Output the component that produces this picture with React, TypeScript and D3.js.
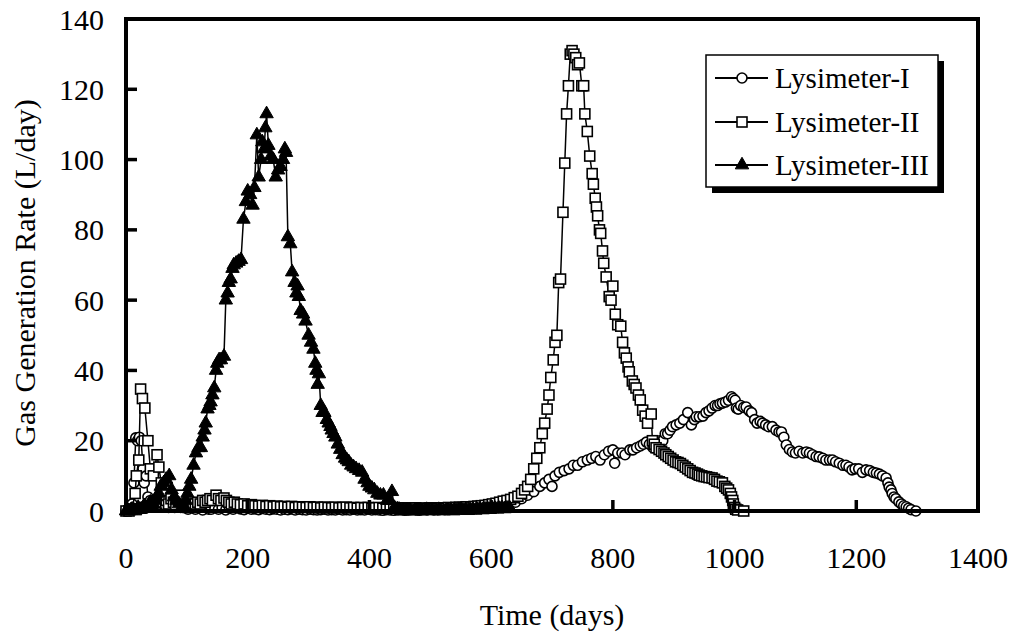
import React from 'react';
import * as d3 from 'd3';

// axis ticks
const xTicks = [0, 200, 400, 600, 800, 1000, 1200, 1400];
const yTicks = [0, 20, 40, 60, 80, 100, 120, 140];

const seriesNames = ['Lysimeter-I', 'Lysimeter-II', 'Lysimeter-III'];

// [day, L/day]
const lysimeter1: [number, number][] = [
  [0, 0], [3, 0.5], [7, 1], [10, 2], [13, 8], [16, 20.8], [19, 20], [22, 21], [25, 20], [28, 12], [30, 8],
  [33, 10], [36, 4], [40, 3], [44, 2.5], [48, 2], [52, 3], [56, 1.5], [60, 2], [65, 1.5], [70, 1], [75, 2],
  [80, 1], [85, 1.5], [90, 1], [96, 1], [102, 0.5], [108, 1], [114, 0.5], [120, 1], [126, 0.3], [128, 2],
  [132, 1], [136, 0.5], [140, 0.5], [146, 1], [152, 0.5], [158, 1], [164, 0.3], [170, 0.8], [176, 0.5],
  [182, 1], [188, 0.6], [194, 0.4], [200, 0.8], [206, 0.5], [212, 0.6], [218, 0.4], [224, 0.7], [230, 0.5],
  [236, 0.4], [242, 0.6], [248, 0.5], [254, 0.3], [260, 0.5], [266, 0.4], [272, 0.6], [278, 0.3], [284, 0.5],
  [290, 0.4], [296, 0.3], [302, 0.5], [308, 0.4], [314, 0.3], [320, 0.4], [326, 0.5], [332, 0.3], [338, 0.4],
  [344, 0.3], [350, 0.5], [356, 0.3], [362, 0.4], [368, 0.3], [374, 0.5], [380, 0.3], [386, 0.4], [392, 0.3],
  [398, 0.5], [404, 0.3], [410, 0.4], [416, 0.3], [422, 0.2], [428, 0.4], [434, 0.3], [440, 0.2], [446, 0.3],
  [452, 0.4], [458, 0.2], [464, 0.3], [470, 0.4], [476, 0.3], [482, 0.2], [488, 0.4], [494, 0.3], [500, 0.5],
  [506, 0.3], [512, 0.4], [518, 0.6], [524, 0.4], [530, 0.5], [536, 0.7], [542, 0.5], [548, 0.8], [554, 0.6],
  [560, 0.9], [566, 0.7], [572, 1], [578, 0.8], [584, 1.1], [590, 1], [596, 1.2], [602, 1], [610, 1.2],
  [620, 1.5], [630, 2], [640, 2.5], [650, 3.5], [660, 4.5], [670, 5.5], [680, 7], [688, 8], [695, 9], [700, 7],
  [705, 10], [712, 11], [720, 11.5], [728, 12], [735, 13], [742, 13], [750, 14], [758, 14.5], [765, 15],
  [772, 15.5], [779, 14.5], [786, 16], [793, 17], [800, 17.4], [803, 13.6], [808, 16.5], [815, 16.5], [820, 16],
  [828, 17.4], [833, 17.4], [839, 18], [845, 18.5], [850, 19], [855, 19.6], [860, 19], [866, 18], [872, 19],
  [877, 20], [882, 20], [886, 22], [890, 22], [894, 23], [898, 24], [904, 24.5], [910, 25], [916, 26], [923, 28],
  [929, 24.5], [934, 26], [937, 26.8], [942, 26.8], [948, 27], [953, 28], [958, 28.5], [963, 29.3], [968, 30],
  [972, 30], [976, 30.5], [980, 30.7], [985, 31], [990, 31.5], [995, 32.5], [998, 32], [1001, 31.5],
  [1003, 29.3], [1006, 29], [1010, 30], [1015, 29.5], [1019, 29.6], [1024, 28.5], [1028, 28], [1033, 26],
  [1037, 25], [1042, 25.5], [1046, 25], [1051, 24.5], [1056, 24], [1062, 24], [1068, 23], [1073, 22.5],
  [1077, 22.5], [1081, 21], [1085, 18.8], [1090, 17.5], [1095, 16.8], [1100, 16.5], [1106, 17], [1112, 16.5],
  [1118, 16.8], [1123, 16.5], [1128, 16], [1134, 15.5], [1139, 15.4], [1145, 15], [1150, 14.5], [1156, 14.5],
  [1161, 14.5], [1166, 14], [1172, 13.6], [1178, 13], [1183, 13], [1188, 12.5], [1193, 11.7], [1198, 12],
  [1204, 12], [1210, 11], [1216, 11.7], [1222, 11.5], [1228, 11], [1233, 10.8], [1238, 10.5], [1243, 10],
  [1249, 9.4], [1252, 8], [1254, 6.8], [1257, 6], [1259, 5], [1262, 4], [1265, 3.5], [1270, 2.6], [1274, 2],
  [1278, 1.5], [1282, 1.2], [1286, 0.8], [1290, 0.4], [1298, 0],
];

const lysimeter2: [number, number][] = [
  [0, 0], [5, 0], [10, 0.5], [15, 5], [17, 10], [21, 14.5], [24, 34.7], [27, 32], [31, 29.3], [36, 20],
  [40, 12], [45, 10], [51, 16], [54, 12.5], [58, 8], [62, 5], [66, 3], [70, 2], [74, 3.5], [78, 2.5], [82, 1.5],
  [86, 3], [90, 4.5], [94, 2], [98, 1.5], [102, 1], [106, 2], [110, 1.5], [114, 2], [118, 2.5], [122, 2],
  [126, 3], [130, 2.5], [134, 3], [138, 3.5], [142, 3], [148, 4.5], [152, 3.5], [156, 3], [161, 3.7], [165, 3],
  [169, 2.5], [173, 2], [178, 2.5], [183, 2], [188, 1.8], [194, 2], [200, 1.5], [206, 1.8], [212, 1.5],
  [218, 1.4], [224, 1.6], [230, 1.3], [236, 1.5], [242, 1.2], [248, 1.4], [254, 1.2], [260, 1.3], [266, 1.1],
  [272, 1.3], [278, 1], [284, 1.2], [290, 1.1], [296, 1], [302, 1.2], [308, 1], [314, 1.1], [320, 0.9],
  [326, 1.1], [332, 1], [338, 0.9], [344, 1.1], [350, 0.9], [356, 1], [362, 1.1], [368, 0.9], [374, 1],
  [380, 0.8], [386, 1], [392, 0.9], [398, 1], [404, 0.8], [410, 0.9], [416, 1], [422, 0.8], [428, 0.9],
  [434, 0.8], [440, 1], [446, 0.8], [452, 0.7], [458, 0.9], [464, 0.8], [470, 0.7], [476, 0.9], [482, 0.8],
  [488, 0.7], [494, 0.8], [500, 0.9], [506, 0.7], [512, 0.8], [518, 0.9], [524, 0.8], [530, 1], [536, 0.9],
  [542, 1], [548, 1.1], [554, 1], [560, 1.2], [566, 1.1], [572, 1.3], [578, 1.4], [584, 1.5], [590, 1.6],
  [596, 1.8], [602, 2], [608, 2.2], [614, 2.5], [620, 2.8], [626, 3], [632, 3.3], [638, 3.8], [644, 4.2],
  [650, 5], [655, 6], [660, 7], [665, 9], [670, 12], [675, 15], [680, 18], [684, 22], [688, 25], [692, 29],
  [695, 33], [698, 38], [702, 43], [705, 48], [708, 50], [711, 65], [714, 66], [718, 85], [721, 99], [724, 113],
  [727, 121], [730, 130], [733, 131], [736, 130], [739, 129], [742, 127], [745, 127.5], [749, 121], [752, 121],
  [754, 113], [758, 108], [762, 101], [766, 96], [768, 93], [771, 89], [773, 86.5], [775, 84], [778, 80],
  [780, 79], [783, 74], [785, 70.5], [789, 66.6], [794, 61], [797, 60], [800, 64], [804, 56], [808, 53],
  [813, 52.6], [816, 48], [819, 45], [822, 43.5], [825, 41], [827, 39.6], [832, 37], [835, 36], [838, 35],
  [842, 33], [845, 31.6], [849, 28.7], [853, 27], [857, 25], [863, 27.6], [865, 20], [868, 19], [871, 18],
  [876, 17.5], [880, 17], [884, 16.5], [887, 16], [891, 15.5], [895, 15], [899, 14.5], [903, 14], [907, 13.8],
  [911, 13.5], [915, 13], [919, 12.5], [923, 12], [927, 11.5], [931, 11], [935, 10.8], [939, 10.5], [942, 10.2],
  [946, 10], [950, 9.8], [954, 9.7], [958, 9.5], [963, 9.4], [967, 9], [971, 8.5], [975, 8.3], [980, 8],
  [984, 7], [987, 6.5], [990, 6], [993, 5], [995, 4], [997, 3], [998, 2], [1000, 1], [1002, 0.5], [1005, 0.3],
  [1015, 0],
];

const lysimeter3: [number, number][] = [
  [0, 0], [3, 0.2], [5, 0], [8, 0.3], [10, 0.5], [13, 0.2], [15, 0], [18, 0.5], [20, 1], [23, 0.4], [25, 0.5],
  [28, 1], [30, 1.5], [33, 0.8], [35, 1], [38, 2], [40, 2.5], [43, 1.5], [45, 2], [48, 3], [50, 4],
  [54, 5], [57, 7], [62, 8], [66, 9], [71, 10], [75, 6], [79, 4], [83, 3], [87, 2], [91, 1], [95, 1.5], [98, 3],
  [101, 5], [104, 7], [107, 9], [111, 13], [115, 16.5], [119, 18], [123, 18], [126, 21], [129, 23], [131, 25],
  [134, 29], [137, 30], [139, 31], [142, 33], [145, 35], [148, 40], [150, 42], [153, 43], [156, 43], [161, 44],
  [164, 60], [167, 62], [169, 65], [172, 66], [175, 69], [177, 70], [181, 70.5], [185, 71], [189, 71.5],
  [193, 83], [197, 88], [200, 91], [204, 90], [208, 87], [211, 92], [215, 107], [218, 95], [222, 100],
  [224, 105], [227, 103], [229, 109], [231, 113], [234, 104], [238, 101], [242, 100], [246, 95], [250, 97],
  [254, 98], [258, 100], [261, 103], [263, 102], [266, 78], [270, 76], [273, 68], [277, 65], [280, 62],
  [282, 64], [284, 61], [287, 57], [291, 56], [295, 54], [300, 50], [304, 48], [308, 46], [311, 42], [313, 40],
  [315, 36], [317, 39], [320, 30], [323, 28], [326, 28], [330, 26], [333, 25], [336, 24], [338, 23], [341, 22],
  [344, 21], [348, 19], [352, 17.5], [356, 16], [360, 15], [363, 14.5], [366, 14], [370, 13], [374, 12.5],
  [378, 12], [383, 11.5], [388, 11], [392, 9], [397, 8], [400, 7], [404, 6.5], [408, 6], [413, 5], [418, 4.5],
  [423, 4.5], [429, 3], [433, 3], [437, 5.5], [441, 1], [446, 0.5], [449, 0.4], [452, 0.3], [455, 0.2],
  [458, 0], [462, 0.3], [466, 0.2], [470, 0], [474, 0.1], [478, 0.3], [482, 0.2], [486, 0], [490, 0.2],
  [494, 0.4], [498, 0.1], [502, 0.3], [506, 0], [510, 0.2], [514, 0.4], [518, 0.1], [522, 0], [526, 0.3],
  [530, 0.2], [534, 0.4], [538, 0], [542, 0.3], [546, 0.2], [550, 0.5], [554, 0.2], [558, 0.4], [562, 0.1],
  [566, 0.3], [570, 0.5], [574, 0.2], [578, 0.4], [582, 0.6], [586, 0.3], [590, 0.5], [594, 0.7], [598, 0.4],
  [602, 0.6], [606, 0.8], [610, 0.5], [614, 0.7], [618, 0.9], [622, 0.6], [626, 0.8], [630, 1],
];

const allSeries = [lysimeter1, lysimeter2, lysimeter3];

const width = 1015;
const height = 634;
const margin = { top: 19, right: 37, bottom: 123, left: 126 };
const font = '"Liberation Serif", "Times New Roman", serif';

const Marker = ({ kind, x, y }: { kind: number; x: number; y: number }) => {
  if (kind === 0) {
    return <circle cx={x} cy={y} r={5} fill="#fff" stroke="#000" strokeWidth={1.6} />;
  }
  if (kind === 1) {
    return <rect x={x - 5} y={y - 5} width={10} height={10} fill="#fff" stroke="#000" strokeWidth={1.6} />;
  }
  const tri = d3.symbol(d3.symbolTriangle, 78)();
  return <path d={tri || ''} transform={`translate(${x},${y})`} fill="#000" stroke="#000" strokeWidth={1} />;
};

const App = () => {
  const x = d3
    .scaleLinear()
    .domain([0, 1400])
    .range([margin.left, width - margin.right]);
  const y = d3
    .scaleLinear()
    .domain([0, 140])
    .range([height - margin.bottom, margin.top]);

  const line = d3
    .line<[number, number]>()
    .x((d) => x(d[0]))
    .y((d) => y(d[1]));

  const x0 = x(0);
  const x1 = x(1400);
  const y0 = y(0);
  const y1 = y(140);

  // legend box
  const lg = { x: 706, y: 55, w: 232, h: 132 };
  const rowY = [78, 122, 165];

  return (
    <svg
      width={width}
      height={height}
      style={{ position: 'absolute', left: 0, top: 0, background: '#fff' }}
      fontFamily={font}
    >
      <rect x={0} y={0} width={width} height={height} fill="#fff" />

      {/* series */}
      {allSeries.map((s, i) => (
        <g key={i}>
          <path d={line(s) || ''} fill="none" stroke="#000" strokeWidth={1.5} />
          {s.map((d, j) => (
            <Marker key={j} kind={i} x={x(d[0])} y={y(d[1])} />
          ))}
        </g>
      ))}

      {/* frame */}
      <rect x={x0} y={y1} width={x1 - x0} height={y0 - y1} fill="none" stroke="#000" strokeWidth={4} />

      {/* y ticks */}
      {yTicks.map((t) => (
        <g key={t}>
          <line x1={x0} x2={x0 + 11} y1={y(t)} y2={y(t)} stroke="#000" strokeWidth={3.5} />
          <text x={x0 - 22} y={y(t)} dy="0.35em" textAnchor="end" fontSize={30}>
            {t}
          </text>
        </g>
      ))}

      {/* x ticks */}
      {xTicks.map((t) => (
        <g key={t}>
          <line x1={x(t)} x2={x(t)} y1={y0} y2={y0 - 11} stroke="#000" strokeWidth={3.5} />
          <text x={x(t)} y={568} textAnchor="middle" fontSize={30}>
            {t}
          </text>
        </g>
      ))}

      <text x={(x0 + x1) / 2} y={625} textAnchor="middle" fontSize={30}>
        Time (days)
      </text>
      <text transform={`translate(35, ${(y0 + y1) / 2 + 8}) rotate(-90)`} textAnchor="middle" fontSize={30}>
        Gas Generation Rate (L/day)
      </text>

      {/* legend */}
      <rect x={lg.x + 6} y={lg.y + 6} width={lg.w} height={lg.h} fill="#000" />
      <rect x={lg.x} y={lg.y} width={lg.w} height={lg.h} fill="#fff" stroke="#000" strokeWidth={1.5} />
      {seriesNames.map((name, i) => (
        <g key={name}>
          <line x1={715} x2={768} y1={rowY[i]} y2={rowY[i]} stroke="#000" strokeWidth={1.8} />
          <Marker kind={i} x={742} y={rowY[i]} />
          <text x={775} y={rowY[i]} dy="0.35em" fontSize={29}>
            {name}
          </text>
        </g>
      ))}
    </svg>
  );
};

export default App;
